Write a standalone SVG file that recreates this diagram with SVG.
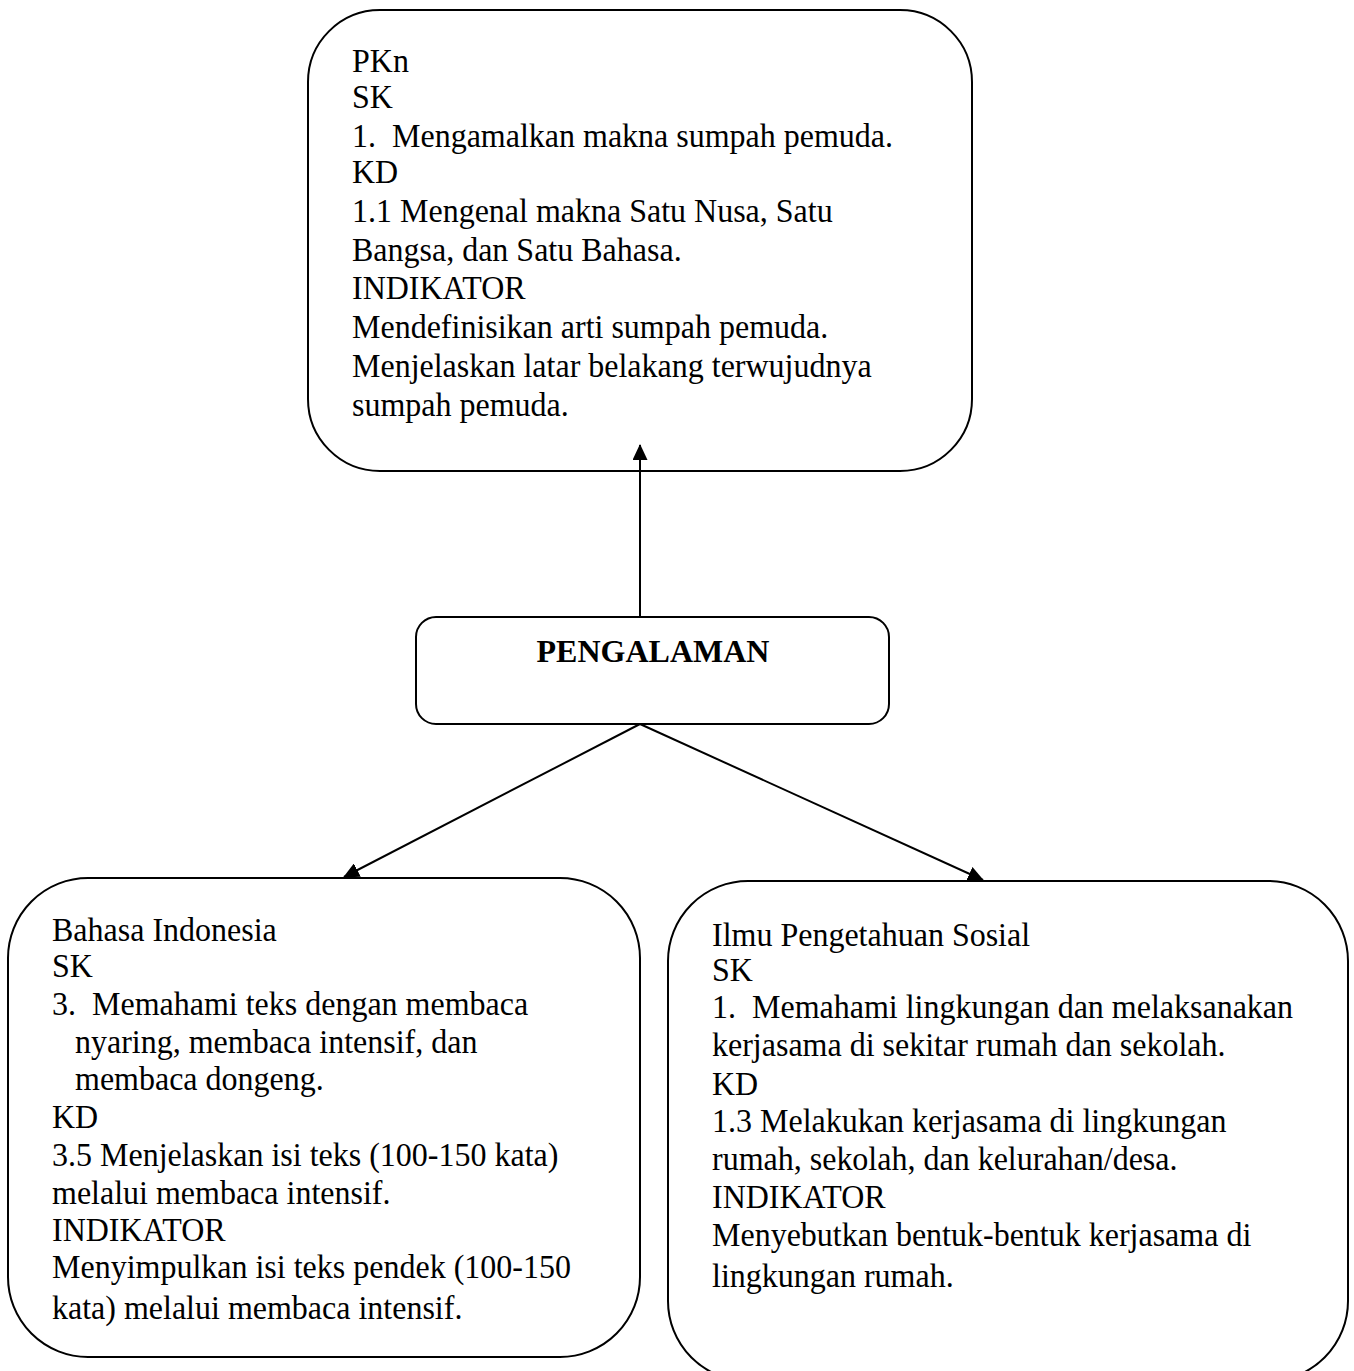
<svg xmlns="http://www.w3.org/2000/svg" width="1354" height="1371" viewBox="0 0 1354 1371">
<defs>
<style>
.box{fill:#fff;stroke:#000;stroke-width:2}
.t{font-family:"Liberation Serif","Times New Roman",serif;font-size:32px;fill:#000}
.b{font-weight:bold}
.c{stroke:#000;stroke-width:2;fill:none}
</style>
<marker id="ah" markerWidth="16" markerHeight="15" refX="15" refY="7.5" orient="auto" markerUnits="userSpaceOnUse">
<path d="M0,0 L16,7.5 L0,15 Z" fill="#000"/>
</marker>
</defs>
<rect width="1354" height="1371" fill="#fff"/>
<g id="node-pkn">
<rect class="box" x="308" y="10" width="664" height="461" rx="72" ry="72"/>
<text class="t" transform="matrix(1 0 0 1.08 352 72)">PKn</text>
<text class="t" transform="matrix(1 0 0 1.08 352 108)">SK</text>
<text class="t" transform="matrix(1 0 0 1.08 352 147)" xml:space="preserve">1.  Mengamalkan makna sumpah pemuda.</text>
<text class="t" transform="matrix(1 0 0 1.08 352 183)">KD</text>
<text class="t" transform="matrix(1 0 0 1.08 352 222)">1.1 Mengenal makna Satu Nusa, Satu</text>
<text class="t" transform="matrix(1 0 0 1.08 352 261)">Bangsa, dan Satu Bahasa.</text>
<text class="t" transform="matrix(1 0 0 1.08 352 299)">INDIKATOR</text>
<text class="t" transform="matrix(1 0 0 1.08 352 338)">Mendefinisikan arti sumpah pemuda.</text>
<text class="t" transform="matrix(1 0 0 1.08 352 377)">Menjelaskan latar belakang terwujudnya</text>
<text class="t" transform="matrix(1 0 0 1.08 352 416)">sumpah pemuda.</text>
</g>
<g id="node-pengalaman">
<rect class="box" x="416" y="617" width="473" height="107" rx="20" ry="20"/>
<text class="t b" x="653" y="662" text-anchor="middle">PENGALAMAN</text>
</g>
<g id="node-bahasa">
<rect class="box" x="8" y="878" width="632" height="479" rx="80" ry="80"/>
<text class="t" transform="matrix(1 0 0 1.08 52 941)">Bahasa Indonesia</text>
<text class="t" transform="matrix(1 0 0 1.08 52 977)">SK</text>
<text class="t" transform="matrix(1 0 0 1.08 52 1015)" xml:space="preserve">3.  Memahami teks dengan membaca</text>
<text class="t" transform="matrix(1 0 0 1.08 75 1053)">nyaring, membaca intensif, dan</text>
<text class="t" transform="matrix(1 0 0 1.08 75 1090)">membaca dongeng.</text>
<text class="t" transform="matrix(1 0 0 1.08 52 1128)">KD</text>
<text class="t" transform="matrix(1 0 0 1.08 52 1166)">3.5 Menjelaskan isi teks (100-150 kata)</text>
<text class="t" transform="matrix(1 0 0 1.08 52 1204)">melalui membaca intensif.</text>
<text class="t" transform="matrix(1 0 0 1.08 52 1241)">INDIKATOR</text>
<text class="t" transform="matrix(1 0 0 1.08 52 1278)">Menyimpulkan isi teks pendek (100-150</text>
<text class="t" transform="matrix(1 0 0 1.08 52 1319)">kata) melalui membaca intensif.</text>
</g>
<g id="node-ips">
<rect class="box" x="668" y="881" width="680" height="500" rx="80" ry="80"/>
<text class="t" transform="matrix(1 0 0 1.08 712 946)">Ilmu Pengetahuan Sosial</text>
<text class="t" transform="matrix(1 0 0 1.08 712 981)">SK</text>
<text class="t" transform="matrix(1 0 0 1.08 712 1018)" xml:space="preserve">1.  Memahami lingkungan dan melaksanakan</text>
<text class="t" transform="matrix(1 0 0 1.08 712 1056)">kerjasama di sekitar rumah dan sekolah.</text>
<text class="t" transform="matrix(1 0 0 1.08 712 1095)">KD</text>
<text class="t" transform="matrix(1 0 0 1.08 712 1132)">1.3 Melakukan kerjasama di lingkungan</text>
<text class="t" transform="matrix(1 0 0 1.08 712 1170)">rumah, sekolah, dan kelurahan/desa.</text>
<text class="t" transform="matrix(1 0 0 1.08 712 1208)">INDIKATOR</text>
<text class="t" transform="matrix(1 0 0 1.08 712 1246)">Menyebutkan bentuk-bentuk kerjasama di</text>
<text class="t" transform="matrix(1 0 0 1.08 712 1287)">lingkungan rumah.</text>
</g>
<g id="connectors">
<line class="c" x1="640" y1="617" x2="640" y2="445" marker-end="url(#ah)"/>
<line class="c" x1="640" y1="724" x2="344" y2="877" marker-end="url(#ah)"/>
<line class="c" x1="640" y1="724" x2="983" y2="880" marker-end="url(#ah)"/>
</g>
</svg>
